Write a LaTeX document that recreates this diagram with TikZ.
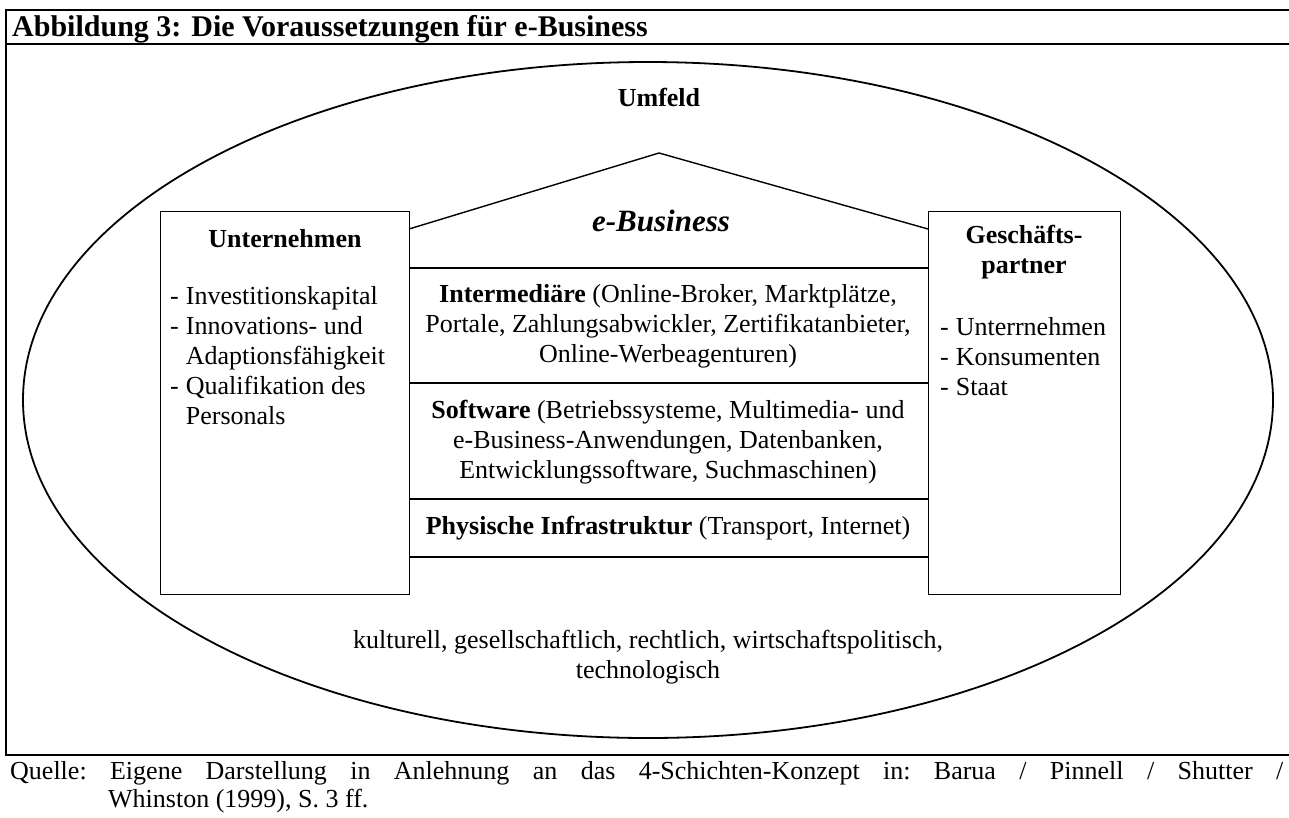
\documentclass[tikz,border=0pt]{standalone}
\usepackage{fontspec}
\setmainfont{Liberation Serif}
\begin{document}
\begin{tikzpicture}[x=1pt,y=-1pt,
  frame/.style={line width=2.4pt},
  thin/.style={line width=1.4pt},
  body/.style={font=\fontsize{26}{30}\selectfont, inner sep=0pt},
  bodyc/.style={body, align=center},
  bodyl/.style={body, align=left, anchor=west},
  head/.style={font=\fontsize{26}{30}\selectfont\bfseries, inner sep=0pt, align=center},
  source/.style={font=\fontsize{26}{30}\selectfont\frenchspacing, inner sep=0pt, anchor=base west}]
\useasboundingbox (0,0) rectangle (1289,817);

% outer frame with title bar and source line
\draw[frame] (5,10) -- (1289,10);
\draw[frame] (5,44) -- (1289,44);
\draw[frame] (6,10) -- (6,755);
\draw[frame] (5,755) -- (1289,755);
\node[anchor=base west, inner sep=0pt, font=\fontsize{30}{34}\selectfont\bfseries] (title) at (12,36)
  {Abbildung 3: Die Voraussetzungen für e-Business};

% environment
\draw[line width=1.8pt] (648,400) ellipse [x radius=625, y radius=338];
\node[head] (umfeld) at (659,97) {Umfeld};

% company and partner boxes
\node[draw, thin, minimum width=249pt, minimum height=383pt, anchor=north west, inner sep=0pt] (firm) at (160,211) {};
\node[draw, thin, minimum width=192pt, minimum height=383pt, anchor=north west, inner sep=0pt] (partner) at (928,211) {};

% house roof and layers
\coordinate (apex) at (659,153);
\coordinate (roofL) at (409,229);
\coordinate (roofR) at (928,229);
\draw[thin] (roofL) -- (apex) -- (roofR);
\draw[thin] (409,268) -- (928,268);
\draw[thin] (409,383) -- (928,383);
\draw[thin] (409,499) -- (928,499);
\draw[thin] (409,557) -- (928,557);

\node[inner sep=0pt, font=\fontsize{31}{34}\selectfont\bfseries\itshape] (ebiz) at (661,221) {e-Business};

\node[bodyc] (inter) at (668,326) {\textbf{Intermediäre} (Online-Broker, Marktplätze,\\Portale, Zahlungsabwickler, Zertifikatanbieter,\\Online-Werbeagenturen)};
\node[bodyc] (soft) at (668,442) {\textbf{Software} (Betriebssysteme, Multimedia- und\\e-Business-Anwendungen, Datenbanken,\\Entwicklungssoftware, Suchmaschinen)};
\node[bodyc] (phys) at (668,528) {\textbf{Physische Infrastruktur} (Transport, Internet)};

% company box content
\node[head] (firmhead) at (285,239) {Unternehmen};
\node[bodyl] (firmlist) at (170,358) {%
  \begin{tabular}{@{}l@{\hspace{7pt}}l@{}}
  - & Investitionskapital\\
  - & Innovations- und\\
    & Adaptionsfähigkeit\\
  - & Qualifikation des\\
    & Personals
  \end{tabular}};

% partner box content
\node[head] (partnerhead) at (1024,252) {Geschäfts-\\partner};
\node[bodyl] (partnerlist) at (940,359) {%
  \begin{tabular}{@{}l@{\hspace{7pt}}l@{}}
  - & Unterrnehmen\\
  - & Konsumenten\\
  - & Staat
  \end{tabular}};

% environment factors
\node[bodyc] (factors) at (648,657) {kulturell, gesellschaftlich, rechtlich, wirtschaftspolitisch,\\technologisch};

% source, justified first line with hanging second line
\node[source] (src1) at (10,779)
  {\makebox[1273pt][s]{Quelle: Eigene Darstellung in Anlehnung an das 4-Schichten-Konzept in: Barua / Pinnell / Shutter /}};
\node[source] (src2) at (108,807) {Whinston (1999), S. 3 ff.};
\end{tikzpicture}
\end{document}
